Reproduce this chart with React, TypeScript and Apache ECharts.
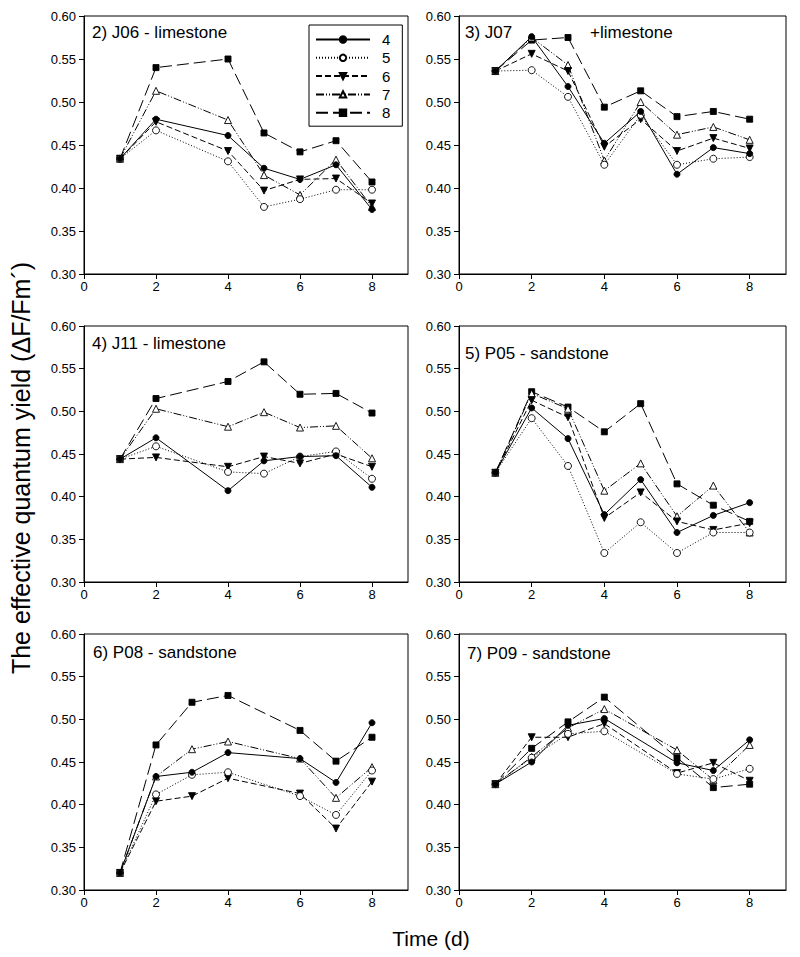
import React, { useEffect, useRef } from 'react';
import * as echarts from 'echarts';

// ---------- data ----------
const seriesNames = ['4', '5', '6', '7', '8'];
const panelTitles = ['2) J06 - limestone', '3) J07', '4) J11 - limestone', '5) P05 - sandstone', '6) P08 - sandstone', '7) P09 - sandstone'];
const xTickValues = [0, 2, 4, 6, 8];

const daysJ06 = [1, 2, 4, 5, 6, 7, 8];
const j06_4 = [0.434, 0.480, 0.461, 0.423, 0.410, 0.427, 0.375];
const j06_5 = [0.434, 0.467, 0.431, 0.378, 0.387, 0.398, 0.398];
const j06_6 = [0.434, 0.477, 0.443, 0.397, 0.410, 0.411, 0.382];
const j06_7 = [0.434, 0.513, 0.479, 0.415, 0.392, 0.433, 0.378];
const j06_8 = [0.434, 0.540, 0.550, 0.464, 0.442, 0.455, 0.407];

const daysJ07 = [1, 2, 3, 4, 5, 6, 7, 8];
const j07_4 = [0.536, 0.576, 0.518, 0.452, 0.489, 0.416, 0.447, 0.440];
const j07_5 = [0.536, 0.537, 0.506, 0.427, 0.485, 0.427, 0.434, 0.436];
const j07_6 = [0.536, 0.556, 0.536, 0.448, 0.480, 0.443, 0.458, 0.446];
const j07_7 = [0.536, 0.575, 0.543, 0.432, 0.500, 0.462, 0.471, 0.456];
const j07_8 = [0.536, 0.572, 0.575, 0.494, 0.513, 0.483, 0.489, 0.480];

const daysJ11 = [1, 2, 4, 5, 6, 7, 8];
const j11_4 = [0.444, 0.469, 0.407, 0.442, 0.447, 0.448, 0.411];
const j11_5 = [0.444, 0.459, 0.429, 0.427, 0.447, 0.453, 0.421];
const j11_6 = [0.444, 0.446, 0.435, 0.447, 0.439, 0.450, 0.435];
const j11_7 = [0.444, 0.503, 0.482, 0.499, 0.481, 0.483, 0.445];
const j11_8 = [0.444, 0.515, 0.535, 0.558, 0.520, 0.521, 0.498];

const daysP05 = [1, 2, 3, 4, 5, 6, 7, 8];
const p05_4 = [0.428, 0.504, 0.468, 0.379, 0.420, 0.358, 0.378, 0.393];
const p05_5 = [0.428, 0.492, 0.436, 0.334, 0.370, 0.334, 0.358, 0.358];
const p05_6 = [0.428, 0.513, 0.493, 0.375, 0.405, 0.371, 0.361, 0.369];
const p05_7 = [0.428, 0.521, 0.503, 0.407, 0.439, 0.377, 0.413, 0.358];
const p05_8 = [0.428, 0.523, 0.505, 0.476, 0.509, 0.415, 0.390, 0.371];

const daysP08 = [1, 2, 3, 4, 6, 7, 8];
const p08_4 = [0.320, 0.433, 0.438, 0.461, 0.454, 0.426, 0.496];
const p08_5 = [0.320, 0.412, 0.435, 0.438, 0.410, 0.388, 0.440];
const p08_6 = [0.320, 0.404, 0.410, 0.431, 0.413, 0.372, 0.427];
const p08_7 = [0.320, 0.433, 0.465, 0.474, 0.454, 0.408, 0.444];
const p08_8 = [0.320, 0.470, 0.520, 0.528, 0.487, 0.451, 0.479];

const daysP09 = [1, 2, 3, 4, 6, 7, 8];
const p09_4 = [0.424, 0.450, 0.493, 0.501, 0.449, 0.440, 0.476];
const p09_5 = [0.424, 0.455, 0.483, 0.486, 0.436, 0.430, 0.442];
const p09_6 = [0.424, 0.479, 0.479, 0.495, 0.437, 0.449, 0.428];
const p09_7 = [0.424, 0.456, 0.490, 0.512, 0.464, 0.429, 0.470];
const p09_8 = [0.424, 0.466, 0.497, 0.526, 0.455, 0.420, 0.424];

const panelDays = [daysJ06, daysJ07, daysJ11, daysP05, daysP08, daysP09];
const panelValues = [
  [j06_4, j06_5, j06_6, j06_7, j06_8],
  [j07_4, j07_5, j07_6, j07_7, j07_8],
  [j11_4, j11_5, j11_6, j11_7, j11_8],
  [p05_4, p05_5, p05_6, p05_7, p05_8],
  [p08_4, p08_5, p08_6, p08_7, p08_8],
  [p09_4, p09_5, p09_6, p09_7, p09_8],
];

// ---------- styles ----------
const FONT = '"Liberation Sans", Arial, sans-serif';
const seriesStyle: any[] = [
  { symbol: 'circle', fill: '#000', size: 6, rotate: 0, dash: 'solid' },
  { symbol: 'circle', fill: '#fff', size: 7, rotate: 0, dash: [1, 2] },
  { symbol: 'triangle', fill: '#000', size: 7, rotate: 180, dash: [6, 3] },
  { symbol: 'triangle', fill: '#fff', size: 7, rotate: 0, dash: [8, 2, 1, 2, 1, 2] },
  { symbol: 'rect', fill: '#000', size: 6, rotate: 0, dash: [12, 5] },
];

const gridLefts = [84, 459];
const gridWidths = [324, 327];
const gridTops = [16, 326, 634];
const gridHeights = [258, 256, 256];
const titlePos = [
  [92, 32], [465, 32],
  [92, 343], [465, 353],
  [93, 652], [467, 653],
];

export default function App() {
  const ref = useRef<HTMLDivElement>(null);
  useEffect(() => {
    if (!ref.current) return;
    const chart = echarts.init(ref.current, null, { renderer: 'svg' });
    const grids: any[] = [];
    const xAxes: any[] = [];
    const yAxes: any[] = [];
    const series: any[] = [];
    for (let p = 0; p < 6; p++) {
      const col = p % 2;
      const row = Math.floor(p / 2);
      grids.push({
        left: gridLefts[col], top: gridTops[row], width: gridWidths[col], height: gridHeights[row],
        show: true, borderColor: '#000', borderWidth: 1, backgroundColor: 'transparent',
      });
      xAxes.push({
        type: 'value', gridIndex: p, min: 0, max: 9, interval: 2,
        axisLine: { show: true, lineStyle: { color: '#000', width: 1 } },
        axisTick: { show: true, length: 5, inside: false, customValues: xTickValues, lineStyle: { color: '#000' } },
        axisLabel: { show: true, customValues: xTickValues, margin: 6, color: '#000', fontSize: 13, fontFamily: FONT },
        splitLine: { show: false },
      });
      yAxes.push({
        type: 'value', gridIndex: p, min: 0.3, max: 0.6, interval: 0.05,
        axisLine: { show: true, lineStyle: { color: '#000', width: 1 } },
        axisTick: { show: true, length: 5, inside: false, lineStyle: { color: '#000' } },
        axisLabel: { show: true, margin: 8, color: '#000', fontSize: 13, fontFamily: FONT, formatter: (v: number) => v.toFixed(2) },
        splitLine: { show: false },
      });
      const days = panelDays[p];
      panelValues[p].forEach((vals, s) => {
        const st = seriesStyle[s];
        series.push({
          type: 'line', name: seriesNames[s], xAxisIndex: p, yAxisIndex: p,
          data: days.map((d, i) => [d, vals[i]]),
          symbol: st.symbol, symbolSize: st.size, symbolRotate: st.rotate,
          showAllSymbol: true,
          lineStyle: { color: '#000', width: 1, type: st.dash },
          itemStyle: { color: st.fill, borderColor: '#000', borderWidth: 0.9 },
          emphasis: { disabled: true },
          silent: true,
          z: 2 + (4 - s),
        });
      });
    }
    const graphics: any[] = panelTitles.map((t, i) => ({
      type: 'text', x: titlePos[i][0], y: titlePos[i][1],
      style: { text: t, fontSize: 17, fontFamily: FONT, fill: '#000', textVerticalAlign: 'middle', textAlign: 'left' },
    }));
    graphics.push({
      type: 'text', x: 590, y: 32,
      style: { text: '+limestone', fontSize: 17, fontFamily: FONT, fill: '#000', textVerticalAlign: 'middle', textAlign: 'left' },
    });
    graphics.push({
      type: 'text', x: 21, y: 468, rotation: Math.PI / 2,
      style: { text: 'The effective quantum yield (ΔF/Fm´)', fontSize: 25, fontFamily: FONT, fill: '#000', textAlign: 'center', textVerticalAlign: 'middle' },
    });
    graphics.push({
      type: 'text', x: 431, y: 938,
      style: { text: 'Time (d)', fontSize: 21, fontFamily: FONT, fill: '#000', textAlign: 'center', textVerticalAlign: 'middle' },
    });

    chart.setOption({
      animation: false,
      backgroundColor: '#fff',
      textStyle: { fontFamily: FONT },
      grid: grids,
      xAxis: xAxes,
      yAxis: yAxes,
      legend: {
        show: true, orient: 'vertical', left: 309, top: 25,
        data: seriesNames,
        itemWidth: 54, itemHeight: 8, itemGap: 3.3,
        padding: [7, 12, 6, 6],
        borderColor: '#000', borderWidth: 1, backgroundColor: '#fff',
        selectedMode: false,
        textStyle: { fontSize: 15, fontFamily: FONT, color: '#000', padding: [0, 0, 0, 7] },
        z: 20,
      },
      series,
      graphic: graphics,
    });
    return () => chart.dispose();
  }, []);
  return <div ref={ref} style={{ position: 'fixed', left: 0, top: 0, width: 800, height: 957 }} />;
}
